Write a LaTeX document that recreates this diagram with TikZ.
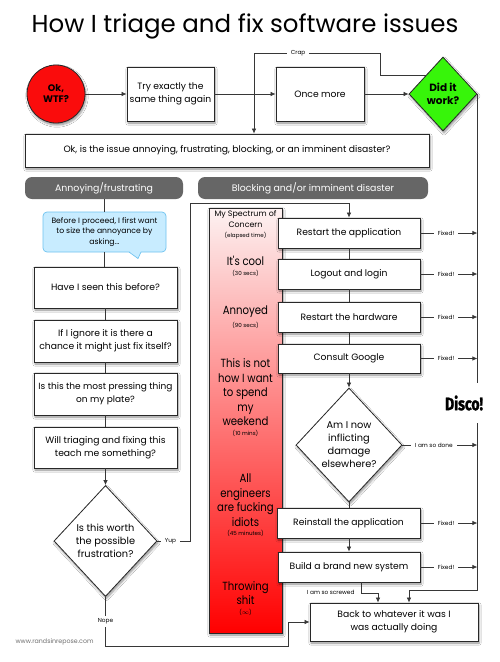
\documentclass[tikz,border=0pt]{standalone}
\usepackage{fontspec}
\setmainfont{Poppins}
\newfontfamily\narrowfont{Poppins}[FakeStretch=0.86]
\newfontfamily\discofont{Fira Sans}[FakeStretch=0.78,BoldFeatures={FakeBold=1.6}]
\usetikzlibrary{shapes.geometric,arrows.meta,shadows,shadows.blur}
\definecolor{wtfred}{RGB}{250,12,12}
\definecolor{okgreen}{RGB}{55,245,10}
\definecolor{tabgray}{RGB}{102,102,102}
\definecolor{calloutfill}{RGB}{200,236,255}
\definecolor{calloutdraw}{RGB}{110,195,240}
\definecolor{linegray}{RGB}{55,55,55}
\definecolor{boxline}{RGB}{40,40,40}
\definecolor{barTop}{RGB}{253,242,242}
\definecolor{barMid}{RGB}{247,160,160}
\definecolor{barBot}{RGB}{255,0,0}
\definecolor{footgray}{RGB}{110,110,110}
\begin{document}
\begin{tikzpicture}[x=1pt,y=-1pt,
  shad/.style={blur shadow={shadow xshift=1pt,shadow yshift=-2pt,shadow blur steps=6,shadow opacity=45}},
  pbox/.style={draw=boxline,line width=0.8pt,fill=white,inner sep=2pt,align=center,shad,
    font=\fontsize{9.2}{13}\selectfont},
  pdia/.style={diamond,draw=boxline,line width=0.8pt,fill=white,inner sep=0pt,align=center,shad,
    font=\fontsize{9.2}{13}\selectfont},
  ptab/.style={rounded corners=7pt,fill=tabgray,text=white,inner sep=0pt,
    font=\fontsize{9.4}{10}\selectfont},
  conn/.style={draw=linegray,line width=0.7pt},
  arr/.style={conn,-{Latex[length=5pt,width=4.5pt]}},
  lbl/.style={fill=white,inner xsep=4pt,inner ysep=1pt,font=\fontsize{5.8}{7}\selectfont},
  bartext/.style={align=center,font=\narrowfont\fontsize{11.8}{14.5}\selectfont},
  barsmall/.style={font=\fontsize{5.6}{7}\selectfont},
]
\useasboundingbox (0,0) rectangle (500,662);
\fill[white] (0,0) rectangle (500,662);

% title
\node[font=\fontsize{24.5}{30}\selectfont] (title) at (245,26) {How I triage and fix software issues};

% top row
\node[circle,draw=boxline,line width=0.8pt,fill=wtfred,minimum size=58pt,inner sep=0pt,shad,
  align=center,font=\bfseries\fontsize{9.5}{11}\selectfont] (wtf) at (56,94) {Ok,\\WTF?};
\node[pbox,minimum width=87pt,minimum height=54pt] (try) at (170.5,94) {Try exactly the\\same thing again};
\node[pbox,minimum width=88pt,minimum height=54pt] (once) at (320,94) {Once more};
\node[diamond,draw=boxline,line width=0.8pt,fill=okgreen,inner sep=0pt,minimum width=68pt,minimum height=74pt,
  shad,align=center,font=\bfseries\fontsize{10.5}{13}\selectfont] (did) at (443,94) {Did it\\work?};

\draw[arr] (wtf) -- (try);
\draw[arr] (try) -- (once);
\draw[arr] (once) -- (did);

% crap loop
\coordinate (c1) at (380,53);
\coordinate (c2) at (254,53);
\node[pbox,minimum width=404pt,minimum height=33pt] (bigq) at (227,150.5)
  {Ok, is the issue annoying, frustrating, blocking, or an imminent disaster?};
\draw[arr] (did.north west) -| (c1) -- node[lbl,pos=0.65] {Crap} (c2) -- (c2 |- bigq.north);

% tabs
\node[ptab,minimum width=158pt,minimum height=22pt] (tab1) at (104,188) {Annoying/frustrating};
\node[ptab,minimum width=230pt,minimum height=22pt] (tab2) at (313,188) {Blocking and/or imminent disaster};

% left column
\node[draw=calloutdraw,line width=0.7pt,fill=calloutfill,rounded corners=4pt,minimum width=123pt,
  minimum height=40pt,inner sep=1pt,align=center,font=\fontsize{7.7}{10.8}\selectfont] (callout) at (104.5,232)
  {Before I proceed, I first want\\to size the annoyance by\\asking...};
\fill[calloutfill] (129,251) -- (138,258.5) -- (141,251) -- cycle;
\draw[calloutdraw,line width=0.7pt,line join=round] (129,252) -- (138,258.5) -- (141,252);

\node[pbox,minimum width=143pt,minimum height=41pt] (have) at (105.5,287.5) {Have I seen this before?};
\node[pbox,minimum width=143pt,minimum height=42pt] (ignore) at (105.5,341) {If I ignore it is there a\\chance it might just fix itself?};
\node[pbox,minimum width=143pt,minimum height=42pt,font=\fontsize{9}{13}\selectfont] (pressing) at (105.5,394) {Is this the most pressing thing\\on my plate?};
\node[pbox,minimum width=143pt,minimum height=41pt] (will) at (105.5,447.5) {Will triaging and fixing this\\teach me something?};
\node[pdia,minimum width=103pt,minimum height=111pt,font=\fontsize{9.8}{13}\selectfont] (worth) at (105.5,541)
  {Is this worth\\the possible\\frustration?};

\draw[conn] (tab1.south -| callout.north) -- (callout.north);
\draw[conn] (callout.south) -- (callout.south |- have.north);
\draw[conn] (have.south) -- (ignore.north);
\draw[conn] (ignore.south) -- (pressing.north);
\draw[conn] (pressing.south) -- (will.north);
\draw[arr] (will.south) -- (worth.north);

% spectrum bar
\node[draw=boxline,line width=0.6pt,minimum width=73pt,minimum height=425pt,inner sep=0pt,
  top color=barTop,middle color=barMid,bottom color=barBot,shad] (spectrum) at (245.5,420.5) {};
\node[align=center,font=\fontsize{7.9}{10.8}\selectfont] (spec0) at (245.5,224.5) {My Spectrum of\\Concern\\[-1pt]{\fontsize{5.6}{7}\selectfont(elapsed time)}};
\node[bartext] (spec1) at (245.5,261) {It's cool};
\node[barsmall] (spec1s) at (245.5,273.5) {(30 secs)};
\node[bartext] (spec2) at (245.5,312) {Annoyed};
\node[barsmall] (spec2s) at (245.5,325) {(90 secs)};
\node[bartext] (spec3) at (245.5,392.5) {This is not\\how I want\\to spend\\my\\weekend};
\node[barsmall] (spec3s) at (245.5,433.5) {(10 mins)};
\node[bartext] (spec4) at (245.5,500) {All\\engineers\\are fucking\\idiots};
\node[barsmall] (spec4s) at (245.5,533.5) {(45 minutes)};
\node[bartext] (spec5) at (245.5,593) {Throwing\\shit};
\node[barsmall] (spec5s) at (245.5,612) {(\(\infty\))};

% right column
\node[pbox,minimum width=142pt,minimum height=30pt] (restartapp) at (349,233) {Restart the application};
\node[pbox,minimum width=142pt,minimum height=30pt] (logout) at (349,274) {Logout and login};
\node[pbox,minimum width=142pt,minimum height=30pt] (restarthw) at (349,317) {Restart the hardware};
\node[pbox,minimum width=142pt,minimum height=29pt] (google) at (349,358.5) {Consult Google};
\node[pdia,minimum width=106pt,minimum height=114pt,font=\fontsize{9.8}{13}\selectfont] (inflict) at (349,445)
  {Am I now\\inflicting\\damage\\elsewhere?};
\node[pbox,minimum width=143pt,minimum height=30pt] (reinstall) at (348.5,523) {Reinstall the application};
\node[pbox,minimum width=142pt,minimum height=30pt] (build) at (349,567) {Build a brand new system};
\node[pbox,minimum width=168pt,minimum height=38pt] (back) at (394,622) {Back to whatever it was I\\was actually doing};

\draw[conn] (restartapp.south) -- (logout.north);
\draw[conn] (logout.south) -- (restarthw.north);
\draw[conn] (restarthw.south) -- (google.north);
\draw[arr] (google.south) -- (inflict.north);
\draw[conn] (inflict.south) -- (inflict.south |- reinstall.north);
\draw[arr] (reinstall.south -| build.north) -- (build.north);

% yup / nope
\coordinate (yup1) at (190,203);
\coordinate (nope1) at (288,646);
\draw[arr] (worth.east) -- node[lbl,pos=0.4] {Yup} (worth.east -| yup1) -- (yup1) -| (restartapp.north);
\draw[arr] (worth.south) -- node[lbl,pos=0.5,inner ysep=3pt] {Nope} (worth.south |- nope1) -- (nope1) |- (back.west);

% fixed arrows to the rail
\node[font=\discofont\bfseries\fontsize{18}{20}\selectfont,minimum height=40pt,inner sep=0pt] (disco) at (464,403) {Disco!};
\draw[arr] (restartapp.east) -- node[lbl,pos=0.45] {Fixed!} (restartapp.east -| did.east);
\draw[arr] (logout.east) -- node[lbl,pos=0.45] {Fixed!} (logout.east -| did.east);
\draw[arr] (restarthw.east) -- node[lbl,pos=0.45] {Fixed!} (restarthw.east -| did.east);
\draw[arr] (google.east) -- node[lbl,pos=0.45] {Fixed!} (google.east -| did.east);
\draw[arr] (inflict.east) -- node[lbl,pos=0.42] {I am so done} (inflict.east -| did.east);
\draw[arr] (reinstall.east) -- node[lbl,pos=0.45] {Fixed!} (reinstall.east -| did.east);
\draw[arr] (build.east) -- node[lbl,pos=0.45] {Fixed!} (build.east -| did.east);

\coordinate (railend) at (409,590);
\draw[conn] (did.east) -- (did.east |- disco.north);
\draw[arr] (did.east |- disco.south) |- (railend) -- (railend |- back.north);

% screwed
\coordinate (sc1) at (361,593);
\coordinate (sc2) at (378,593);
\draw[arr] (build.south -| sc1) -- (sc1) -- (sc2) -- (sc2 |- back.north);
\node[font=\fontsize{5.8}{7}\selectfont,anchor=east] (screwed) at (358,592) {I am so screwed};

% footer
\node[font=\fontsize{6.3}{7}\selectfont,text=footgray,anchor=west] (footer) at (12,642) {www.randsinrepose.com};
\end{tikzpicture}
\end{document}
